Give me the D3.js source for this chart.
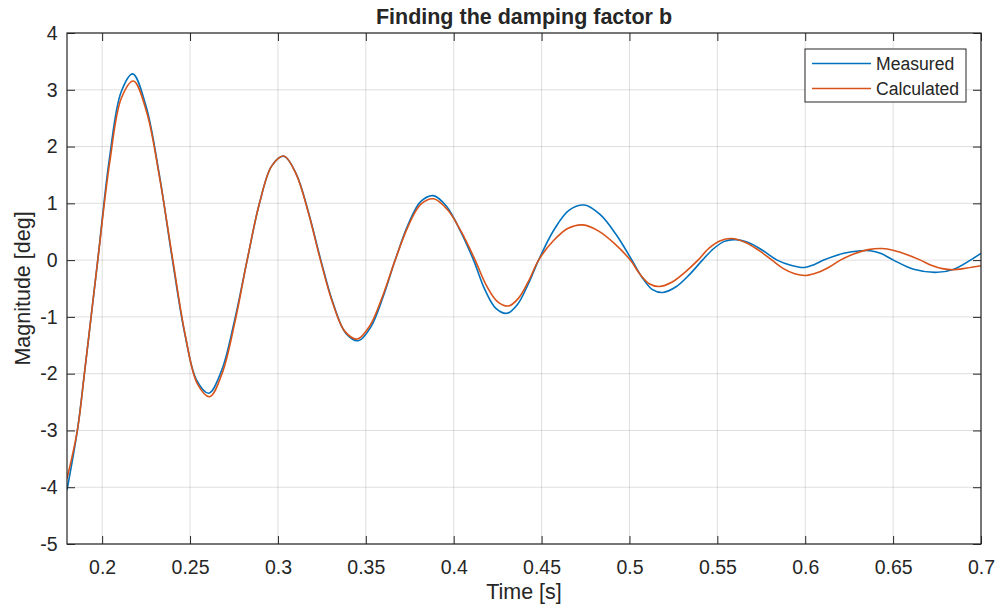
<!DOCTYPE html>
<html>
<head>
<meta charset="utf-8">
<script src="https://cdn.jsdelivr.net/npm/d3@7"></script>
<style>
  body { margin: 0; background: #fff; }
  svg text { font-family: "Liberation Sans", Arial, Helvetica, sans-serif; fill: #262626; }
</style>
</head>
<body>
<div id="chart"></div>
<script>
// Data: [time s, magnitude deg]
const measured = [
  [0.1800, -4.05], [0.1859, -3.0], [0.1899, -2.0], [0.1937, -1.0], [0.1975, 0.0],
  [0.2041, 1.78], [0.2108, 2.96], [0.2174, 3.28], [0.2249, 2.72], [0.2325, 1.51],
  [0.2400, 0.0], [0.2469, -1.28], [0.2538, -2.12], [0.2607, -2.345], [0.2680, -1.94],
  [0.2752, -1.08], [0.2825, 0.0], [0.2895, 1.0], [0.2965, 1.66], [0.3034, 1.83],
  [0.3104, 1.52], [0.3174, 0.84], [0.3244, 0.0], [0.3315, -0.77], [0.3387, -1.29],
  [0.3458, -1.42], [0.3528, -1.18], [0.3598, -0.65], [0.3667, 0.0], [0.3740, 0.62],
  [0.3812, 1.03], [0.3885, 1.135], [0.3961, 0.94], [0.4037, 0.52], [0.4113, 0.0],
  [0.4176, -0.51], [0.4240, -0.85], [0.4303, -0.937], [0.4363, -0.78], [0.4423, -0.43],
  [0.4483, 0.0], [0.4570, 0.53], [0.4657, 0.88], [0.4744, 0.97], [0.4834, 0.80],
  [0.4924, 0.45], [0.5014, 0.0], [0.5073, -0.31], [0.5131, -0.52], [0.5190, -0.57],
  [0.5265, -0.47], [0.5340, -0.26], [0.5415, 0.0], [0.5478, 0.2], [0.5540, 0.33],
  [0.5603, 0.36], [0.5682, 0.30], [0.5761, 0.165], [0.5840, 0.0], [0.5918, -0.09],
  [0.5996, -0.13], [0.6050, -0.08], [0.6105, 0.0], [0.6219, 0.12], [0.6314, 0.165],
  [0.6370, 0.165], [0.6428, 0.12], [0.6502, 0.0], [0.6617, -0.16], [0.6751, -0.215],
  [0.6845, -0.16], [0.6940, 0.0], [0.7000, 0.12]
];
const calculated = [
  [0.1800, -3.85], [0.1859, -3.0], [0.1899, -2.0], [0.1937, -1.0], [0.1975, 0.0],
  [0.2043, 1.72], [0.2110, 2.86], [0.2178, 3.155], [0.2253, 2.61], [0.2327, 1.45],
  [0.2402, 0.0], [0.2472, -1.31], [0.2542, -2.18], [0.2612, -2.405], [0.2683, -1.99],
  [0.2754, -1.11], [0.2825, 0.0], [0.2895, 1.0], [0.2965, 1.66], [0.3034, 1.834],
  [0.3103, 1.52], [0.3173, 0.84], [0.3242, 0.0], [0.3312, -0.76], [0.3382, -1.26],
  [0.3452, -1.39], [0.3524, -1.15], [0.3595, -0.64], [0.3667, 0.0], [0.3740, 0.59],
  [0.3812, 0.98], [0.3885, 1.08], [0.3964, 0.89], [0.4043, 0.50], [0.4122, 0.0],
  [0.4185, -0.44], [0.4249, -0.73], [0.4312, -0.808], [0.4369, -0.67], [0.4426, -0.37],
  [0.4483, 0.0], [0.4567, 0.34], [0.4651, 0.56], [0.4735, 0.62], [0.4825, 0.51],
  [0.4915, 0.29], [0.5005, 0.0], [0.5060, -0.25], [0.5115, -0.42], [0.5170, -0.465],
  [0.5243, -0.385], [0.5317, -0.21], [0.5390, 0.0], [0.5453, 0.21], [0.5517, 0.34],
  [0.5580, 0.38], [0.5657, 0.315], [0.5734, 0.175], [0.5811, 0.0], [0.5876, -0.15],
  [0.5940, -0.24], [0.6005, -0.27], [0.6070, -0.22], [0.6135, -0.125], [0.6200, 0.0],
  [0.6279, 0.11], [0.6358, 0.185], [0.6437, 0.205], [0.6505, 0.17], [0.6580, 0.095],
  [0.6656, 0.0], [0.6717, -0.09], [0.6780, -0.15], [0.6840, -0.17], [0.6920, -0.14],
  [0.7000, -0.10]
];
const seriesNames = ["Measured", "Calculated"];
const seriesColors = ["#0072BD", "#D95319"];
const xTicks = [0.2, 0.25, 0.3, 0.35, 0.4, 0.45, 0.5, 0.55, 0.6, 0.65, 0.7];
const xTickLabels = ["0.2", "0.25", "0.3", "0.35", "0.4", "0.45", "0.5", "0.55", "0.6", "0.65", "0.7"];
const yTicks = [-5, -4, -3, -2, -1, 0, 1, 2, 3, 4];

// Layout
const width = 1000, height = 613;
const margin = { top: 33, right: 19, bottom: 69, left: 67 };
const iw = width - margin.left - margin.right,
      ih = height - margin.top - margin.bottom;

const svg = d3.select("#chart").append("svg")
    .attr("width", width)
    .attr("height", height);

const g = svg.append("g")
    .attr("transform", `translate(${margin.left},${margin.top})`);

const x = d3.scaleLinear().domain([0.18, 0.7]).range([0, iw]);
const y = d3.scaleLinear().domain([-5, 4]).range([ih, 0]);

g.append("rect").attr("width", iw).attr("height", ih).attr("fill", "#fff");

// Grid
g.append("g").selectAll("line").data(xTicks).join("line")
    .attr("x1", d => x(d)).attr("x2", d => x(d))
    .attr("y1", 0).attr("y2", ih)
    .attr("stroke", "#262626").attr("stroke-opacity", 0.15);
g.append("g").selectAll("line").data(yTicks).join("line")
    .attr("x1", 0).attr("x2", iw)
    .attr("y1", d => y(d)).attr("y2", d => y(d))
    .attr("stroke", "#262626").attr("stroke-opacity", 0.15);

// Series lines, clipped to the axes box
svg.append("defs").append("clipPath").attr("id", "clip")
    .append("rect").attr("width", iw).attr("height", ih);

const line = d3.line()
    .x(d => x(d[0]))
    .y(d => y(d[1]))
    .curve(d3.curveCatmullRom.alpha(0.5));

const lines = g.append("g").attr("clip-path", "url(#clip)");
[measured, calculated].forEach((data, i) => {
    lines.append("path")
        .datum(data)
        .attr("d", line)
        .attr("fill", "none")
        .attr("stroke", seriesColors[i])
        .attr("stroke-width", 1.6)
        .attr("stroke-linejoin", "round");
});

// Axes (ticks pointing inward, like MATLAB)
const tickLen = 8;
const styleAxis = sel => {
    sel.select(".domain").remove();
    sel.selectAll(".tick line").attr("stroke", "#262626");
    sel.selectAll("text").style("font-size", "19.5px").attr("fill", "#262626");
};

g.append("g")
    .attr("transform", `translate(0,${ih})`)
    .call(d3.axisBottom(x).tickValues(xTicks).tickFormat((d, i) => xTickLabels[i])
        .tickSizeInner(-tickLen).tickSizeOuter(0).tickPadding(16))
    .call(styleAxis);

g.append("g")
    .call(d3.axisTop(x).tickValues(xTicks).tickFormat("")
        .tickSizeInner(-tickLen).tickSizeOuter(0))
    .call(styleAxis);

g.append("g")
    .call(d3.axisLeft(y).tickValues(yTicks).tickFormat(d => String(d))
        .tickSizeInner(-tickLen).tickSizeOuter(0).tickPadding(9.5))
    .call(styleAxis);

g.append("g")
    .attr("transform", `translate(${iw},0)`)
    .call(d3.axisRight(y).tickValues(yTicks).tickFormat("")
        .tickSizeInner(-tickLen).tickSizeOuter(0))
    .call(styleAxis);

// Box
g.append("rect")
    .attr("width", iw).attr("height", ih)
    .attr("fill", "none")
    .attr("stroke", "#262626")
    .attr("stroke-width", 1.2);

// Title and axis labels
svg.append("text")
    .attr("x", margin.left + iw / 2).attr("y", 23.5)
    .attr("text-anchor", "middle")
    .style("font-size", "21.5px").style("font-weight", "bold")
    .attr("fill", "#000")
    .text("Finding the damping factor b");

svg.append("text")
    .attr("x", margin.left + iw / 2).attr("y", 599)
    .attr("text-anchor", "middle")
    .style("font-size", "21.5px")
    .text("Time [s]");

svg.append("text")
    .attr("transform", `translate(30,${margin.top + ih / 2}) rotate(-90)`)
    .attr("text-anchor", "middle")
    .style("font-size", "21.5px")
    .text("Magnitude [deg]");

// Legend
const legend = svg.append("g").attr("transform", "translate(805,49)");
legend.append("rect")
    .attr("width", 161).attr("height", 53)
    .attr("fill", "#fff")
    .attr("stroke", "#262626")
    .attr("stroke-width", 1);
seriesNames.forEach((name, i) => {
    const ly = 14.5 + i * 25;
    legend.append("line")
        .attr("x1", 7).attr("x2", 66)
        .attr("y1", ly).attr("y2", ly)
        .attr("stroke", seriesColors[i])
        .attr("stroke-width", 1.6);
    legend.append("text")
        .attr("x", 71).attr("y", ly)
        .attr("dy", "0.35em")
        .style("font-size", "17.6px")
        .text(name);
});
</script>
</body>
</html>
